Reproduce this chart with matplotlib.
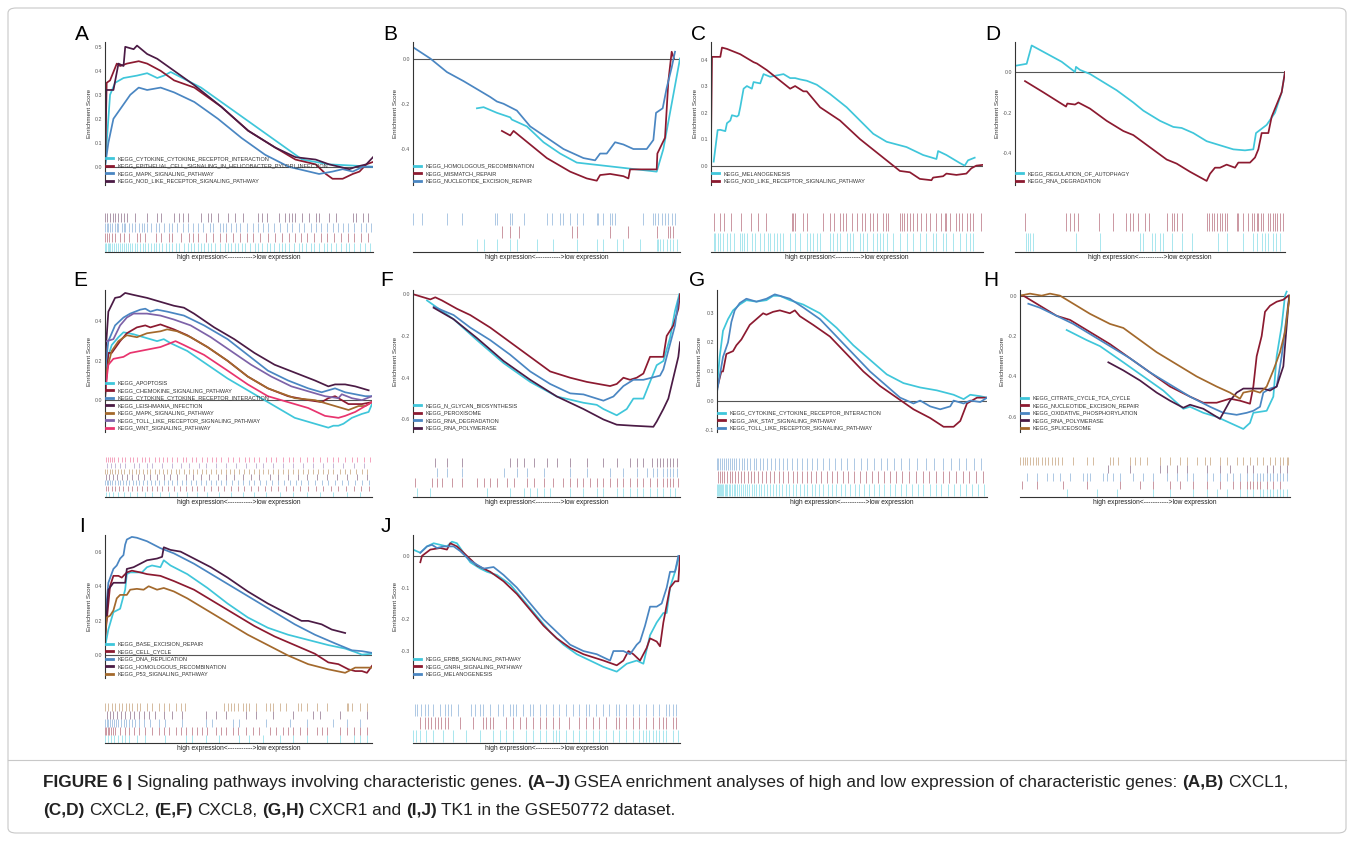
import matplotlib.pyplot as plt
from matplotlib import font_manager
from matplotlib.lines import Line2D
from matplotlib.patches import FancyBboxPatch

# ---- colours used by the GSEA curves ----
CY = '#3fc6da'
RD = '#8c1a30'
BL = '#4a86c2'
DP = '#4b1b45'
BR = '#a3692c'
PU = '#7d62a8'
PK = '#e8346e'

# ---- panel A (CXCL1) ----
a_names = ['KEGG_CYTOKINE_CYTOKINE_RECEPTOR_INTERACTION',
           'KEGG_EPITHELIAL_CELL_SIGNALING_IN_HELICOBACTER_PYLORI_INFECTION',
           'KEGG_MAPK_SIGNALING_PATHWAY', 'KEGG_NOD_LIKE_RECEPTOR_SIGNALING_PATHWAY']
a_colors = [CY, RD, BL, DP]
a_x = [[0, 15, 30, 55, 95, 125, 155, 175, 195, 285, 385, 505, 585, 665, 735, 795],
       [0, 5, 15, 35, 45, 65, 100, 125, 165, 205, 265, 345, 425, 505, 565, 625, 655, 675, 705, 735, 755, 775, 795],
       [0, 10, 25, 55, 75, 100, 125, 165, 205, 265, 335, 405, 475, 545, 605, 635, 675, 705, 735, 765, 795],
       [0, 3, 25, 40, 55, 60, 85, 95, 125, 155, 205, 265, 345, 425, 505, 565, 625, 665, 725, 745, 775, 795]]
a_y = [[0.0, 0.30, 0.35, 0.37, 0.38, 0.39, 0.37, 0.38, 0.395, 0.33, 0.23, 0.11, 0.03, 0.01, 0.005, 0.0],
       [0.0, 0.35, 0.36, 0.43, 0.42, 0.43, 0.44, 0.43, 0.40, 0.36, 0.33, 0.25, 0.15, 0.08, 0.03, 0.01, -0.03, -0.05, -0.05, -0.03, -0.02, 0.01, 0.02],
       [0.0, 0.10, 0.20, 0.26, 0.30, 0.33, 0.32, 0.33, 0.31, 0.27, 0.20, 0.12, 0.05, 0.0, -0.02, -0.03, -0.02, -0.01, -0.02, 0.0, 0.0],
       [0.0, 0.32, 0.32, 0.43, 0.42, 0.50, 0.49, 0.505, 0.47, 0.45, 0.40, 0.34, 0.25, 0.15, 0.08, 0.04, 0.03, 0.01, -0.01, 0.0, 0.01, 0.04]]
a_hits = [[0, 4, 8, 12, 16, 20, 26, 32, 38, 44, 50, 56, 62, 68, 74, 80, 88, 96, 104, 112, 120, 128, 136, 144, 152, 160,
           170, 180, 190, 200, 210, 220, 235, 245, 255, 265, 275, 285, 295, 305, 315, 325, 340, 355, 365, 375, 385,
           395, 405, 415, 430, 445, 455, 465, 480, 490, 500, 515, 525, 535, 545, 560, 575, 585, 595, 610, 620, 635,
           650, 660, 670, 685, 700, 715, 725, 740, 755, 770, 785],
          [0, 5, 12, 20, 30, 45, 55, 70, 95, 105, 120, 150, 165, 190, 200, 225, 250, 260, 275, 300, 320, 340, 360,
           380, 400, 420, 440, 460, 485, 505, 525, 545, 565, 580, 600, 620, 640, 660, 680, 700, 720, 740, 760, 780],
          [0, 5, 10, 15, 20, 30, 35, 40, 50, 55, 60, 70, 80, 90, 100, 110, 115, 125, 135, 150, 160, 175, 190, 200,
           215, 230, 245, 260, 275, 290, 310, 320, 340, 350, 360, 375, 390, 400, 420, 440, 455, 470, 485, 500, 520,
           540, 555, 575, 590, 610, 625, 640, 660, 675, 690, 705, 720, 740, 760, 775, 790],
          [0, 7, 15, 25, 30, 40, 47, 55, 65, 90, 125, 155, 165, 205, 220, 230, 245, 285, 305, 315, 335, 365, 385,
           410, 455, 465, 480, 515, 535, 545, 555, 565, 585, 605, 625, 635, 665, 685, 735, 745, 765, 780]]

# ---- panel B (CXCL1) ----
b_names = ['KEGG_HOMOLOGOUS_RECOMBINATION', 'KEGG_MISMATCH_REPAIR', 'KEGG_NUCLEOTIDE_EXCISION_REPAIR']
b_colors = [CY, RD, BL]
b_x = [[192, 212, 252, 292, 297, 342, 392, 442, 492, 552, 612, 672, 732, 752, 777, 802],
       [267, 292, 302, 352, 402, 472, 522, 552, 562, 592, 632, 647, 652, 732, 734, 757, 767, 777, 784],
       [0, 52, 102, 152, 232, 252, 272, 312, 352, 402, 452, 512, 547, 562, 582, 607, 632, 662, 702, 722, 730, 750, 762, 777, 787]]
b_y = [[-0.22, -0.215, -0.24, -0.26, -0.27, -0.30, -0.37, -0.42, -0.46, -0.47, -0.48, -0.49, -0.50, -0.40, -0.20, 0.0],
       [-0.32, -0.34, -0.32, -0.38, -0.44, -0.50, -0.53, -0.54, -0.515, -0.51, -0.52, -0.53, -0.49, -0.49, -0.42, -0.35, -0.10, 0.03, 0.0],
       [0.05, 0.0, -0.06, -0.10, -0.17, -0.19, -0.20, -0.23, -0.30, -0.35, -0.40, -0.44, -0.45, -0.42, -0.42, -0.37, -0.38, -0.40, -0.40, -0.36, -0.24, -0.22, -0.13, -0.04, 0.03]]
b_hits = [[192, 212, 252, 292, 312, 372, 422, 492, 552, 572, 612, 632, 682, 732, 737, 742, 752, 762, 772, 782, 792],
          [267, 292, 317, 477, 492, 592, 647, 732, 767, 772, 782],
          [0, 27, 102, 147, 247, 252, 292, 297, 332, 402, 417, 442, 452, 472, 492, 512, 552, 557, 572, 592, 597,
           607, 692, 722, 727, 737, 747, 757, 767, 777, 787]]

# ---- panel C (CXCL2) ----
c_names = ['KEGG_MELANOGENESIS', 'KEGG_NOD_LIKE_RECEPTOR_SIGNALING_PATHWAY']
c_colors = [CY, RD]
c_x = [[8, 20, 28, 43, 48, 58, 63, 78, 83, 88, 98, 108, 123, 128, 148, 158, 178, 198, 218, 238, 253, 268, 288,
        318, 358, 408, 448, 488, 528, 588, 638, 678, 683, 708, 748, 763, 773, 793],
       [0, 3, 28, 33, 48, 88, 128, 138, 168, 198, 228, 238, 253, 278, 288, 328, 388, 448, 508, 548, 568, 598, 628,
        663, 668, 698, 708, 738, 768, 783, 798, 818]]
c_y = [[0.015, 0.134, 0.135, 0.13, 0.16, 0.17, 0.19, 0.185, 0.19, 0.22, 0.29, 0.30, 0.29, 0.315, 0.31, 0.345, 0.335,
        0.34, 0.345, 0.33, 0.33, 0.325, 0.32, 0.305, 0.27, 0.22, 0.17, 0.12, 0.09, 0.07, 0.04, 0.025, 0.055, 0.04,
        0.01, 0.0, 0.02, 0.03],
       [0.08, 0.41, 0.41, 0.445, 0.44, 0.42, 0.39, 0.385, 0.36, 0.33, 0.30, 0.29, 0.30, 0.28, 0.28, 0.22, 0.17, 0.10,
        0.04, 0.0, -0.02, -0.025, -0.05, -0.055, -0.045, -0.04, -0.03, -0.035, -0.03, -0.01, 0.0, 0.003]]
c_hits = [[8, 13, 20, 28, 36, 48, 58, 68, 88, 93, 98, 108, 123, 133, 148, 158, 170, 178, 188, 198, 208, 218, 238,
           253, 268, 288, 298, 308, 318, 328, 358, 368, 378, 388, 408, 418, 428, 448, 458, 468, 488, 498, 508, 518,
           528, 548, 568, 588, 608, 628, 648, 668, 678, 698, 708, 728, 748, 768, 778, 788],
          [8, 26, 38, 60, 91, 120, 140, 166, 243, 248, 253, 276, 288, 338, 358, 370, 388, 398, 406, 423, 438, 453,
           463, 478, 488, 498, 516, 526, 533, 568, 573, 580, 588, 598, 608, 620, 633, 646, 658, 678, 693, 703, 708,
           720, 736, 746, 756, 770, 778, 788, 813]]

# ---- panel D (CXCL2) ----
d_names = ['KEGG_REGULATION_OF_AUTOPHAGY', 'KEGG_RNA_DEGRADATION']
d_colors = [CY, RD]
d_x = [[0, 35, 50, 95, 140, 180, 183, 195, 225, 255, 305, 355, 385, 435, 475, 500, 535, 575, 615, 655, 690, 715,
        723, 755, 780, 800, 810],
       [30, 85, 153, 157, 180, 190, 225, 275, 325, 355, 405, 455, 485, 525, 575, 585, 600, 615, 635, 660, 670, 705,
        720, 730, 740, 760, 770, 785, 800, 810]]
d_y = [[0.03, 0.04, 0.13, 0.09, 0.05, 0.0, 0.025, 0.01, -0.01, -0.04, -0.09, -0.15, -0.19, -0.24, -0.27, -0.275,
        -0.30, -0.34, -0.36, -0.38, -0.385, -0.38, -0.30, -0.26, -0.20, -0.10, 0.0],
       [-0.045, -0.10, -0.17, -0.155, -0.16, -0.15, -0.18, -0.24, -0.29, -0.31, -0.37, -0.43, -0.45, -0.49, -0.535,
        -0.50, -0.47, -0.47, -0.455, -0.47, -0.445, -0.445, -0.42, -0.38, -0.30, -0.30, -0.22, -0.16, -0.10, 0.0]]
d_hits = [[33, 40, 45, 53, 183, 255, 375, 385, 410, 420, 435, 445, 470, 500, 530, 610, 635, 685, 715, 725, 740,
           750, 760, 773, 783, 795],
          [30, 153, 165, 177, 190, 253, 293, 333, 345, 353, 370, 390, 403, 455, 470, 477, 485, 500, 577, 583, 590,
           597, 605, 615, 620, 630, 637, 665, 670, 685, 700, 710, 717, 725, 730, 737, 743, 760, 765, 773, 780, 787,
           795, 805]]

# ---- panel E (CXCL8) ----
e_names = ['KEGG_APOPTOSIS', 'KEGG_CHEMOKINE_SIGNALING_PATHWAY', 'KEGG_CYTOKINE_CYTOKINE_RECEPTOR_INTERACTION',
           'KEGG_LEISHMANIA_INFECTION', 'KEGG_MAPK_SIGNALING_PATHWAY', 'KEGG_TOLL_LIKE_RECEPTOR_SIGNALING_PATHWAY',
           'KEGG_WNT_SIGNALING_PATHWAY']
e_colors = [CY, RD, BL, DP, BR, PU, PK]
e_x = [[0, 5, 20, 40, 55, 85, 115, 155, 175, 195, 245, 305, 365, 425, 475, 525, 565, 625, 665, 680, 695, 710, 735, 765, 785, 795],
       [0, 10, 20, 45, 65, 95, 120, 135, 165, 205, 245, 305, 365, 425, 485, 545, 605, 645, 665, 685, 725, 765, 795],
       [0, 10, 30, 55, 75, 105, 120, 135, 155, 185, 235, 295, 365, 425, 485, 545, 605, 645, 665, 685, 715, 745, 775, 795],
       [0, 10, 30, 45, 60, 85, 125, 165, 205, 235, 265, 325, 385, 445, 505, 565, 625, 665, 685, 715, 745, 765, 785],
       [0, 5, 20, 40, 65, 95, 125, 165, 185, 215, 255, 305, 365, 425, 485, 565, 625, 665, 705, 725, 755, 775, 795],
       [5, 25, 45, 65, 85, 125, 165, 205, 255, 315, 375, 435, 495, 555, 615, 655, 695, 705, 735, 765, 795],
       [0, 10, 25, 55, 75, 105, 135, 165, 195, 210, 235, 295, 365, 425, 485, 545, 605, 655, 695, 715, 745, 775, 795]]
e_y = [[0.0, 0.2, 0.28, 0.32, 0.345, 0.335, 0.32, 0.30, 0.31, 0.29, 0.25, 0.18, 0.11, 0.05, 0.0, -0.05, -0.09, -0.12, -0.14, -0.13, -0.13, -0.12, -0.09, -0.07, -0.06, -0.02],
       [0.0, 0.24, 0.24, 0.30, 0.34, 0.37, 0.38, 0.37, 0.385, 0.36, 0.33, 0.27, 0.20, 0.12, 0.06, 0.02, 0.0, -0.01, 0.01, 0.02, -0.02, -0.02, -0.01],
       [0.15, 0.30, 0.38, 0.42, 0.44, 0.46, 0.465, 0.45, 0.46, 0.45, 0.43, 0.38, 0.31, 0.23, 0.15, 0.10, 0.06, 0.04, 0.05, 0.06, 0.04, 0.03, 0.02, 0.02],
       [0.2, 0.45, 0.52, 0.525, 0.545, 0.535, 0.52, 0.50, 0.48, 0.47, 0.44, 0.37, 0.31, 0.24, 0.18, 0.14, 0.10, 0.07, 0.08, 0.08, 0.07, 0.06, 0.05],
       [0.05, 0.15, 0.25, 0.30, 0.33, 0.32, 0.34, 0.35, 0.36, 0.35, 0.32, 0.27, 0.20, 0.12, 0.06, 0.01, 0.0, -0.02, -0.04, -0.05, -0.03, -0.03, -0.01],
       [0.3, 0.31, 0.38, 0.42, 0.44, 0.44, 0.43, 0.41, 0.38, 0.32, 0.25, 0.18, 0.12, 0.07, 0.04, 0.02, 0.01, 0.03, 0.01, 0.0, 0.02],
       [0.04, 0.18, 0.21, 0.22, 0.24, 0.25, 0.26, 0.27, 0.29, 0.30, 0.28, 0.23, 0.15, 0.08, 0.02, -0.01, -0.04, -0.08, -0.09, -0.08, -0.06, -0.03, -0.01]]
e_hits = [[3, 12, 25, 40, 58, 75, 95, 118, 140, 165, 190, 215, 245, 275, 305, 340, 375, 410, 445, 480, 520, 560,
           600, 640, 680, 720, 760],
          [2, 10, 20, 30, 42, 55, 68, 80, 95, 110, 125, 140, 155, 170, 188, 205, 222, 240, 258, 275, 295, 315, 335,
           355, 375, 395, 415, 435, 455, 475, 495, 515, 538, 560, 582, 605, 628, 650, 672, 695, 718, 740, 762, 785],
          [0, 5, 10, 16, 22, 30, 38, 46, 55, 64, 72, 82, 92, 102, 112, 125, 138, 150, 162, 175, 188, 200, 215, 228,
           242, 256, 270, 285, 300, 315, 330, 345, 360, 378, 395, 410, 428, 445, 462, 480, 498, 515, 532, 550, 568,
           585, 605, 625, 645, 665, 685, 705, 725, 745, 765, 785],
          [4, 12, 25, 35, 50, 65, 80, 98, 115, 135, 155, 175, 195, 215, 240, 262, 285, 310, 335, 360, 385, 410, 435,
           460, 490, 515, 545, 575, 600, 630, 660, 690, 720, 750, 780],
          [0, 6, 14, 20, 30, 38, 48, 58, 70, 80, 92, 100, 112, 125, 135, 150, 160, 172, 185, 198, 210, 220, 235, 250,
           262, 275, 288, 300, 315, 330, 345, 360, 372, 385, 400, 415, 430, 445, 460, 470, 485, 500, 515, 530, 545,
           560, 575, 590, 605, 620, 635, 650, 665, 680, 700, 715, 730, 748, 765, 780],
          [5, 18, 30, 45, 60, 85, 100, 125, 140, 170, 200, 225, 250, 280, 300, 330, 360, 390, 420, 450, 470, 500,
           530, 560, 590, 620, 650, 680, 710, 740, 770],
          [2, 8, 15, 22, 28, 40, 52, 60, 75, 82, 95, 110, 118, 130, 148, 160, 172, 185, 200, 215, 232, 240, 258, 270,
           290, 305, 318, 330, 345, 365, 380, 400, 418, 430, 445, 460, 480, 495, 510, 530, 548, 560, 580, 600, 620,
           640, 660, 680, 695, 715, 735, 750, 770, 790]]

# ---- panel F (CXCL8) ----
f_names = ['KEGG_N_GLYCAN_BIOSYNTHESIS', 'KEGG_PEROXISOME', 'KEGG_RNA_DEGRADATION', 'KEGG_RNA_POLYMERASE']
f_colors = [CY, RD, BL, DP]
f_x = [[42, 122, 192, 272, 352, 432, 512, 552, 572, 612, 642, 662, 692, 712, 732, 752, 772, 787, 800],
       [0, 52, 67, 87, 132, 172, 232, 292, 352, 412, 472, 522, 592, 612, 632, 652, 672, 692, 702, 712, 752, 762, 782, 797, 802],
       [62, 122, 172, 232, 292, 352, 412, 472, 512, 552, 572, 602, 632, 662, 692, 742, 752, 772, 787, 797],
       [62, 122, 192, 272, 352, 432, 512, 572, 612, 662, 722, 732, 752, 767, 782, 797, 802]]
f_y = [[-0.03, -0.12, -0.22, -0.33, -0.42, -0.49, -0.52, -0.53, -0.55, -0.58, -0.55, -0.50, -0.50, -0.42, -0.34, -0.32, -0.21, -0.08, 0.0],
       [0.0, -0.025, -0.015, -0.03, -0.07, -0.10, -0.16, -0.23, -0.30, -0.37, -0.40, -0.42, -0.44, -0.43, -0.40, -0.41, -0.40, -0.38, -0.34, -0.30, -0.30, -0.20, -0.15, -0.07, 0.0],
       [-0.06, -0.10, -0.16, -0.22, -0.29, -0.37, -0.43, -0.475, -0.48, -0.50, -0.51, -0.49, -0.44, -0.41, -0.41, -0.39, -0.36, -0.24, -0.15, -0.03],
       [-0.065, -0.12, -0.21, -0.32, -0.41, -0.49, -0.55, -0.60, -0.625, -0.63, -0.635, -0.61, -0.55, -0.50, -0.40, -0.30, -0.23]]
f_hits = [[12, 52, 222, 292, 332, 352, 372, 392, 412, 472, 512, 552, 572, 612, 632, 652, 672, 692, 712, 732, 752, 772, 787],
          [7, 57, 72, 87, 117, 147, 192, 212, 232, 252, 282, 302, 342, 362, 392, 422, 452, 472, 492, 512, 532, 552,
           572, 592, 612, 632, 652, 672, 692, 712, 732, 752, 762, 772, 782, 797],
          [72, 102, 147, 272, 312, 342, 392, 472, 522, 592, 632, 672, 702, 722, 732, 752, 762, 772, 782, 792],
          [67, 102, 147, 292, 312, 332, 362, 402, 432, 472, 522, 572, 612, 652, 672, 692, 717, 732, 742, 752, 762, 772, 782, 792]]

# ---- panel G (CXCR1) ----
g_names = ['KEGG_CYTOKINE_CYTOKINE_RECEPTOR_INTERACTION', 'KEGG_JAK_STAT_SIGNALING_PATHWAY',
           'KEGG_TOLL_LIKE_RECEPTOR_SIGNALING_PATHWAY']
g_colors = [CY, RD, BL]
g_x = [[0, 8, 18, 33, 48, 68, 88, 118, 148, 168, 188, 218, 258, 308, 358, 408, 458, 508, 558, 608, 658, 708, 738, 758, 788, 808],
       [0, 13, 18, 28, 48, 58, 73, 83, 98, 118, 138, 148, 168, 188, 218, 233, 248, 288, 338, 388, 438, 488, 538, 588, 638, 678, 708, 728, 738, 748, 778, 808],
       [0, 18, 33, 43, 53, 68, 88, 118, 148, 173, 188, 218, 258, 308, 358, 408, 458, 508, 548, 588, 608, 638, 668, 698, 708, 738, 758, 788, 808]]
g_y = [[0.05, 0.15, 0.24, 0.28, 0.31, 0.33, 0.345, 0.34, 0.345, 0.36, 0.36, 0.345, 0.33, 0.30, 0.25, 0.19, 0.14, 0.09, 0.06, 0.045, 0.035, 0.02, 0.005, 0.02, 0.015, 0.01],
       [0.04, 0.10, 0.10, 0.16, 0.17, 0.19, 0.21, 0.23, 0.26, 0.28, 0.30, 0.295, 0.305, 0.31, 0.30, 0.31, 0.29, 0.26, 0.22, 0.16, 0.10, 0.05, 0.01, -0.03, -0.06, -0.09, -0.09, -0.07, -0.04, -0.01, 0.01, 0.01],
       [0.03, 0.15, 0.20, 0.27, 0.31, 0.335, 0.35, 0.34, 0.35, 0.365, 0.36, 0.35, 0.32, 0.28, 0.22, 0.16, 0.10, 0.05, 0.01, -0.01, 0.0, -0.02, -0.03, -0.02, 0.0, -0.01, 0.0, -0.005, 0.01]]
g_hits = [[0, 3, 6, 10, 12, 15, 19, 24, 27, 31, 36, 40, 45, 51, 55, 60, 66, 71, 78, 84, 90, 97, 104, 110, 118, 126,
           133, 142, 150, 159, 168, 176, 186, 196, 205, 216, 226, 236, 248, 259, 270, 283, 294, 305, 318, 331, 343,
           357, 370, 384, 397, 412, 426, 440, 456, 471, 486, 501, 518, 534, 550, 566, 584, 601, 617, 636, 654, 671,
           690, 708, 726, 745, 762, 780, 798],
          [2, 8, 15, 22, 30, 38, 46, 55, 64, 73, 82, 92, 102, 112, 124, 136, 148, 160, 172, 185, 198, 212, 226, 240,
           254, 268, 282, 296, 312, 328, 344, 360, 376, 392, 410, 428, 446, 464, 482, 500, 518, 536, 555, 575, 595,
           615, 635, 655, 675, 695, 715, 735, 755, 775, 795],
          [0, 4, 8, 14, 20, 26, 32, 38, 44, 50, 58, 66, 74, 82, 90, 100, 110, 118, 128, 138, 150, 162, 174, 186, 198,
           210, 225, 240, 255, 270, 285, 300, 318, 335, 352, 370, 390, 410, 430, 450, 470, 490, 510, 530, 550, 575,
           600, 625, 650, 675, 700, 725, 745, 770, 790]]

# ---- panel H (CXCR1) ----
h_names = ['KEGG_CITRATE_CYCLE_TCA_CYCLE', 'KEGG_NUCLEOTIDE_EXCISION_REPAIR', 'KEGG_OXIDATIVE_PHOSPHORYLATION',
           'KEGG_RNA_POLYMERASE', 'KEGG_SPLICEOSOME']
h_colors = [CY, RD, BL, DP, BR]
h_x = [[140, 200, 240, 310, 370, 430, 490, 510, 550, 590, 630, 670, 690, 700, 740, 760, 770, 785, 795, 800],
       [0, 10, 60, 110, 150, 210, 270, 330, 390, 450, 510, 550, 590, 630, 660, 690, 700, 710, 725, 735, 750, 770, 790, 805],
       [25, 60, 110, 160, 210, 270, 330, 390, 450, 510, 570, 610, 650, 680, 700, 720, 730, 750, 770, 785, 800, 808],
       [265, 310, 360, 410, 450, 490, 510, 550, 600, 610, 630, 650, 670, 690, 730, 750, 770, 790, 800, 805, 808],
       [0, 30, 65, 90, 120, 160, 210, 270, 310, 360, 410, 470, 530, 590, 630, 660, 670, 700, 720, 740, 760, 780, 795, 805, 810]]
h_y = [[-0.17, -0.22, -0.25, -0.33, -0.40, -0.47, -0.56, -0.55, -0.58, -0.60, -0.63, -0.66, -0.63, -0.58, -0.57, -0.50, -0.30, -0.15, 0.0, 0.02],
       [0.0, 0.0, -0.05, -0.10, -0.12, -0.18, -0.24, -0.31, -0.38, -0.45, -0.50, -0.53, -0.53, -0.51, -0.52, -0.535, -0.45, -0.30, -0.20, -0.08, -0.05, -0.03, -0.02, 0.0],
       [-0.04, -0.06, -0.10, -0.14, -0.19, -0.25, -0.31, -0.38, -0.44, -0.50, -0.55, -0.58, -0.59, -0.58, -0.57, -0.55, -0.48, -0.46, -0.45, -0.30, -0.10, 0.0],
       [-0.33, -0.37, -0.42, -0.48, -0.52, -0.555, -0.54, -0.56, -0.61, -0.58, -0.52, -0.48, -0.46, -0.46, -0.46, -0.47, -0.45, -0.35, -0.15, -0.05, 0.0],
       [0.0, 0.01, 0.0, 0.01, 0.0, -0.04, -0.09, -0.14, -0.16, -0.22, -0.28, -0.34, -0.40, -0.45, -0.48, -0.51, -0.48, -0.47, -0.48, -0.45, -0.37, -0.28, -0.18, -0.05, 0.0]]
h_hits = [[140, 230, 290, 400, 450, 520, 560, 590, 620, 660, 680, 700, 720, 730, 740, 750, 760, 770, 780, 790, 800],
          [5, 50, 130, 200, 300, 360, 400, 450, 480, 520, 560, 600, 640, 660, 680, 690, 700, 710, 720, 740, 760, 780],
          [20, 50, 80, 100, 120, 150, 190, 200, 210, 250, 260, 280, 300, 340, 370, 400, 440, 470, 500, 520, 560, 580,
           600, 620, 640, 660, 680, 700, 710, 720, 730, 740, 750, 760, 770, 780, 790, 800],
          [265, 330, 420, 440, 470, 500, 560, 600, 630, 680, 700, 740, 760, 780, 800],
          [0, 8, 15, 22, 30, 40, 48, 55, 65, 75, 85, 95, 105, 115, 125, 160, 200, 220, 270, 280, 295, 330, 345, 360,
           380, 420, 450, 480, 500, 530, 555, 570, 600, 620, 650, 670, 690, 710, 730, 750, 765, 780, 790, 800, 805]]

# ---- panel I (TK1) ----
i_names = ['KEGG_BASE_EXCISION_REPAIR', 'KEGG_CELL_CYCLE', 'KEGG_DNA_REPLICATION',
           'KEGG_HOMOLOGOUS_RECOMBINATION', 'KEGG_P53_SIGNALING_PATHWAY']
i_colors = [CY, RD, BL, DP, BR]
i_x = [[0, 10, 25, 45, 60, 65, 75, 110, 125, 140, 165, 175, 195, 245, 305, 365, 425, 485, 545, 605, 665, 715, 745, 765, 795],
       [0, 15, 25, 40, 50, 65, 80, 105, 125, 165, 205, 265, 325, 385, 445, 505, 565, 625, 665, 695, 725, 745, 765, 780, 795],
       [0, 10, 25, 35, 45, 55, 60, 65, 80, 95, 125, 165, 205, 265, 325, 385, 445, 505, 565, 625, 685, 735, 765, 795],
       [0, 10, 25, 45, 60, 65, 85, 105, 125, 155, 170, 175, 195, 225, 265, 315, 365, 425, 485, 545, 585, 605, 645, 675, 715],
       [0, 5, 15, 25, 35, 45, 65, 75, 95, 115, 130, 155, 175, 205, 245, 305, 365, 425, 485, 545, 605, 665, 715, 725, 745, 765, 795]]
i_y = [[0.05, 0.15, 0.25, 0.27, 0.38, 0.47, 0.48, 0.48, 0.51, 0.52, 0.51, 0.55, 0.52, 0.47, 0.39, 0.30, 0.22, 0.16, 0.12, 0.09, 0.06, 0.04, 0.02, 0.005, 0.01],
       [0.1, 0.40, 0.46, 0.46, 0.45, 0.48, 0.49, 0.48, 0.47, 0.46, 0.43, 0.38, 0.31, 0.24, 0.17, 0.11, 0.06, 0.01, -0.04, -0.05, -0.08, -0.09, -0.09, -0.10, -0.06],
       [0.2, 0.42, 0.50, 0.52, 0.56, 0.58, 0.64, 0.67, 0.685, 0.68, 0.66, 0.62, 0.59, 0.53, 0.46, 0.39, 0.32, 0.25, 0.18, 0.12, 0.07, 0.03, 0.025, 0.015],
       [0.1, 0.38, 0.42, 0.42, 0.42, 0.50, 0.51, 0.53, 0.55, 0.56, 0.57, 0.625, 0.61, 0.60, 0.56, 0.51, 0.45, 0.37, 0.30, 0.24, 0.20, 0.20, 0.18, 0.15, 0.13],
       [0.1, 0.22, 0.23, 0.26, 0.33, 0.35, 0.35, 0.38, 0.385, 0.38, 0.40, 0.38, 0.39, 0.37, 0.33, 0.26, 0.19, 0.12, 0.06, 0.0, -0.05, -0.08, -0.10, -0.09, -0.07, -0.07, -0.07]]
i_hits = [[0, 8, 18, 28, 40, 50, 60, 70, 95, 120, 180, 240, 260, 300, 340, 400, 430, 470, 520, 560, 600, 660, 700, 740, 760, 780],
          [0, 4, 8, 12, 18, 24, 30, 45, 60, 72, 85, 100, 120, 140, 160, 175, 190, 210, 225, 240, 260, 275, 290, 305,
           330, 345, 360, 380, 395, 420, 440, 460, 490, 510, 530, 545, 560, 580, 600, 630, 645, 660, 700, 720, 740, 760, 780],
          [0, 5, 10, 15, 20, 26, 32, 40, 48, 56, 64, 72, 80, 90, 100, 115, 135, 160, 180, 230, 300, 320, 380, 400,
           480, 550, 600, 680, 720, 760],
          [5, 15, 25, 35, 48, 60, 75, 85, 100, 115, 130, 150, 175, 200, 230, 300, 330, 360, 420, 450, 500, 560, 620, 640, 700, 780],
          [0, 10, 20, 30, 42, 50, 62, 72, 80, 95, 105, 125, 140, 160, 175, 190, 210, 225, 238, 355, 365, 375, 385,
           395, 410, 420, 430, 450, 480, 490, 500, 520, 540, 575, 585, 600, 630, 660, 720, 725, 735, 760, 780]]

# ---- panel J (TK1) ----
j_names = ['KEGG_ERBB_SIGNALING_PATHWAY', 'KEGG_GNRH_SIGNALING_PATHWAY', 'KEGG_MELANOGENESIS']
j_colors = [CY, RD, BL]
j_x = [[0, 22, 42, 62, 82, 102, 117, 132, 152, 172, 202, 222, 252, 292, 332, 372, 412, 452, 492, 532, 572, 612, 642, 672, 692, 712, 732, 752, 762, 772, 787, 800],
       [22, 27, 52, 82, 102, 112, 132, 162, 192, 232, 272, 312, 352, 392, 432, 472, 512, 572, 612, 632, 647, 662, 682, 702, 712, 732, 742, 752, 772, 787, 797, 802],
       [22, 42, 57, 72, 92, 122, 142, 172, 212, 242, 272, 312, 352, 392, 432, 472, 512, 552, 592, 602, 632, 652, 672, 682, 697, 712, 732, 747, 762, 772, 787, 797]]
j_y = [[0.02, 0.01, 0.03, 0.04, 0.035, 0.03, 0.045, 0.04, 0.01, -0.02, -0.04, -0.05, -0.06, -0.09, -0.14, -0.19, -0.24, -0.28, -0.31, -0.33, -0.35, -0.365, -0.34, -0.33, -0.34, -0.25, -0.21, -0.18, -0.18, -0.10, -0.05, 0.0],
       [-0.02, 0.0, 0.02, 0.025, 0.02, 0.04, 0.03, 0.0, -0.03, -0.05, -0.08, -0.12, -0.17, -0.22, -0.26, -0.29, -0.31, -0.33, -0.345, -0.33, -0.30, -0.31, -0.33, -0.29, -0.26, -0.27, -0.285, -0.21, -0.10, -0.08, -0.08, 0.0],
       [0.01, 0.03, 0.035, 0.025, 0.03, 0.03, 0.015, -0.015, -0.04, -0.035, -0.06, -0.10, -0.15, -0.20, -0.24, -0.28, -0.30, -0.31, -0.33, -0.30, -0.30, -0.31, -0.28, -0.27, -0.22, -0.16, -0.16, -0.15, -0.10, -0.05, -0.05, 0.0]]
j_hits = [[0, 10, 20, 40, 60, 90, 120, 160, 200, 240, 260, 280, 300, 340, 360, 380, 400, 420, 430, 440, 460, 480,
           500, 520, 540, 560, 580, 600, 620, 640, 660, 680, 690, 700, 710, 720, 730, 740, 750, 760, 780, 795],
          [20, 35, 45, 55, 65, 75, 85, 95, 105, 140, 180, 210, 220, 230, 240, 280, 300, 320, 340, 360, 380, 400, 420,
           440, 470, 500, 520, 540, 560, 580, 610, 620, 640, 660, 680, 700, 720, 740, 750, 760, 780, 790],
          [5, 12, 25, 35, 45, 60, 80, 95, 105, 115, 135, 175, 185, 200, 210, 230, 255, 270, 290, 300, 310, 330, 350,
           360, 380, 400, 420, 440, 460, 480, 500, 520, 530, 550, 570, 590, 610, 620, 640, 660, 680, 700, 720, 740,
           760, 770, 780, 790]]

W, H = 1354, 841
fig = plt.figure(figsize=(W / 100, H / 100), dpi=100)
plt.rcParams['font.family'] = ['Liberation Sans', 'DejaVu Sans']


def box(x, y, w, h):
    return [x / W, 1 - (y + h) / H, w / W, h / H]


# row geometry in pixels: main top, main bottom, rug top, rug bottom
rows = [(42, 185, 212, 252), (290, 432, 457, 497), (535, 678, 703, 743)]


def gsea_panel(letter, lx, ly, left, right, row, names, colors, xs, ys, hits, n, ylim, yticks, zero='#555555'):
    top, bot, rtop, rbot = rows[row]
    ax = fig.add_axes(box(left, top, right - left, bot - top))
    ax.axhline(0, color=zero, lw=0.8, zorder=1)
    for x, y, c in zip(xs, ys, colors):
        ax.plot(x, y, color=c, lw=1.25, zorder=2)
    ax.set_xlim(0, n)
    ax.set_ylim(*ylim)
    ax.set_xticks([])
    ax.set_yticks(yticks)
    ax.set_yticklabels(['%.1f' % t for t in yticks])
    ax.tick_params(axis='y', labelsize=3.8, labelcolor='#555555', length=0, pad=2)
    for s in ['top', 'right', 'bottom']:
        ax.spines[s].set_visible(False)
    ax.spines['left'].set_color('#333333')
    ax.spines['left'].set_linewidth(0.8)
    ax.set_ylabel('Enrichment Score', fontsize=4.5, color='#333333', labelpad=2)
    ax.patch.set_alpha(0)
    handles = [Line2D([], [], color=c, lw=2) for c in colors]
    ax.legend(handles, names, loc='lower left', bbox_to_anchor=(0.005, 0.01), frameon=False,
              fontsize=4, handlelength=1.2, handletextpad=0.8, labelspacing=0.45,
              borderpad=0, borderaxespad=0, labelcolor='#333333')

    rug = fig.add_axes(box(left, rtop, right - left, rbot - rtop))
    k = len(hits)
    for i, (h, c) in enumerate(zip(hits, colors)):
        rug.vlines(h, i + 0.05, i + 0.95, color=c, lw=0.7, alpha=0.45)
    rug.set_xlim(0, n)
    rug.set_ylim(0, k)
    rug.set_xticks([])
    rug.set_yticks([])
    for s in ['top', 'right', 'left']:
        rug.spines[s].set_visible(False)
    rug.spines['bottom'].set_color('#333333')
    rug.spines['bottom'].set_linewidth(0.8)
    rug.set_xlabel('high expression<----------->low expression', fontsize=4.8, color='#222222', labelpad=1.5)
    rug.patch.set_alpha(0)

    fig.text(lx / W, 1 - ly / H, letter, fontsize=15, ha='center', va='center', color='black')


gsea_panel('A', 82, 35, 105, 373, 0, a_names, a_colors, a_x, a_y, a_hits, 795, (-0.076, 0.52), [0.0, 0.1, 0.2, 0.3, 0.4, 0.5])
gsea_panel('B', 390, 35, 413, 680, 0, b_names, b_colors, b_x, b_y, b_hits, 802, (-0.559, 0.073), [-0.4, -0.2, 0.0])
gsea_panel('C', 698, 35, 711, 983, 0, c_names, c_colors, c_x, c_y, c_hits, 818, (-0.073, 0.466), [0.0, 0.1, 0.2, 0.3, 0.4])
gsea_panel('D', 993, 35, 1015, 1285, 0, d_names, d_colors, d_x, d_y, d_hits, 810, (-0.555, 0.147), [-0.4, -0.2, 0.0])
gsea_panel('E', 80, 280, 105, 372, 1, e_names, e_colors, e_x, e_y, e_hits, 795, (-0.162, 0.56), [0.0, 0.2, 0.4])
gsea_panel('F', 387, 280, 413, 680, 1, f_names, f_colors, f_x, f_y, f_hits, 802, (-0.66, 0.02), [-0.6, -0.4, -0.2, 0.0], zero='#dddddd')
gsea_panel('G', 697, 280, 717, 987, 1, g_names, g_colors, g_x, g_y, g_hits, 808, (-0.108, 0.38), [-0.1, 0.0, 0.1, 0.2, 0.3])
gsea_panel('H', 991, 280, 1020, 1290, 1, h_names, h_colors, h_x, h_y, h_hits, 810, (-0.675, 0.028), [-0.6, -0.4, -0.2, 0.0])
gsea_panel('I', 82, 526, 105, 372, 2, i_names, i_colors, i_x, i_y, i_hits, 795, (-0.13, 0.696), [0.0, 0.2, 0.4, 0.6])
gsea_panel('J', 386, 526, 413, 680, 2, j_names, j_colors, j_x, j_y, j_hits, 802, (-0.385, 0.066), [-0.3, -0.2, -0.1, 0.0])

# frame and caption separator
fig.patches.append(FancyBboxPatch((8 / W, 8 / H), 1 - 16 / W, 1 - 16 / H, boxstyle='round,pad=0,rounding_size=0.006',
                                  transform=fig.transFigure, fill=False, edgecolor='#c8c8c8', lw=0.8))
fig.add_artist(Line2D([8 / W, 1 - 8 / W], [1 - 760 / H, 1 - 760 / H], transform=fig.transFigure, color='#c8c8c8', lw=0.8))

# caption with mixed bold/regular pieces
names_avail = {f.name for f in font_manager.fontManager.ttflist}
cap_font = 'Liberation Sans Narrow' if 'Liberation Sans Narrow' in names_avail else 'Liberation Sans'
cap_size = 12.4 if cap_font == 'Liberation Sans' else 14
renderer = fig.canvas.get_renderer()


def text_w(s, bold):
    t = fig.text(0, 0, s, fontsize=cap_size, family=cap_font, fontweight='bold' if bold else 'normal')
    w = t.get_window_extent(renderer).width
    t.remove()
    return w


space = text_w('x x', False) - text_w('xx', False)

caption_lines = [
    [('FIGURE 6 |', True), ('Signaling pathways involving characteristic genes.', False), ('(A–J)', True),
     ('GSEA enrichment analyses of high and low expression of characteristic genes:', False),
     ('(A,B)', True), ('CXCL1,', False)],
    [('(C,D)', True), ('CXCL2,', False), ('(E,F)', True), ('CXCL8,', False), ('(G,H)', True),
     ('CXCR1 and', False), ('(I,J)', True), ('TK1 in the GSE50772 dataset.', False)],
]
caption_base = [787, 815]

for parts, yy in zip(caption_lines, caption_base):
    xx = 43
    for s, bold in parts:
        fig.text(xx / W, 1 - yy / H, s, fontsize=cap_size, family=cap_font,
                 fontweight='bold' if bold else 'normal', va='baseline', ha='left', color='#222222')
        xx += text_w(s, bold) + space

fig.savefig('out.png', dpi=100)
